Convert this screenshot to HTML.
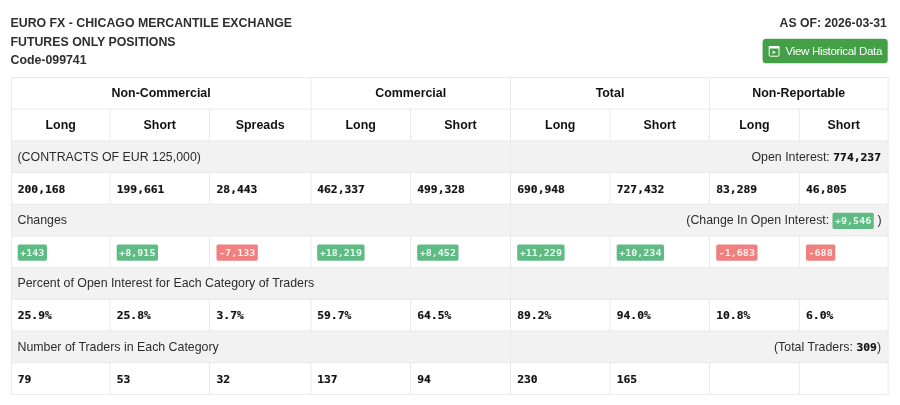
<!DOCTYPE html>
<html lang="en"><head><meta charset="utf-8"><title>EURO FX - COT</title><style>
html,body{margin:0;padding:0;background:#fff;}
body{width:900px;height:405px;position:relative;overflow:hidden;font-family:"Liberation Sans",Arial,sans-serif;color:#333;}
svg.bg{position:absolute;left:0;top:0;}
.t{position:absolute;white-space:nowrap;}
.title{font-weight:bold;font-size:12.33px;line-height:18.6px;color:#2e2e2e;}
.h{position:absolute;font-weight:bold;font-size:12.4px;color:#111;text-align:center;white-space:nowrap;}
.lbl{position:absolute;font-size:12.36px;color:#2c2c2c;white-space:nowrap;}
.num{position:absolute;font-family:"DejaVu Sans Mono","Liberation Mono",monospace;font-weight:bold;font-size:11.33px;color:#111;white-space:nowrap;transform:translateY(-0.1px) scaleY(0.88);-webkit-text-stroke:0.2px #111;}
.m{font-family:"DejaVu Sans Mono","Liberation Mono",monospace;font-weight:bold;font-size:11.33px;color:#111;display:inline-block;transform:translateY(0.2px) scaleY(0.88);-webkit-text-stroke:0.2px #111;}
.b{position:absolute;font-family:"DejaVu Sans Mono","Liberation Mono",monospace;font-weight:bold;font-size:10.0px;color:rgba(255,255,255,.88);white-space:nowrap;text-align:center;transform:scaleY(0.9);}
.btn{position:absolute;color:#fff;font-size:11.6px;white-space:nowrap;letter-spacing:-0.35px;}
</style></head><body>
<svg class="bg" width="900" height="405" viewBox="0 0 900 405">
<rect x="762.60" y="38.70" width="125.10" height="24.60" rx="3.5" fill="#43a047"/>
<g transform="translate(762.6,38.7)"><rect x="6.6" y="8.3" width="9.8" height="9.2" rx="1" fill="none" stroke="#fff" stroke-width="1"/><rect x="6.1" y="7.4" width="10.8" height="2.3" rx="0.6" fill="#fff"/><path d="M10.1 11.8 L13.3 13.6 L10.1 15.4 Z" fill="#fff"/></g>
<rect x="11.40" y="140.88" width="876.70" height="31.69" fill="#f2f2f2"/>
<rect x="11.40" y="204.26" width="876.70" height="31.69" fill="#f2f2f2"/>
<rect x="11.40" y="267.64" width="876.70" height="31.69" fill="#f2f2f2"/>
<rect x="11.40" y="331.02" width="876.70" height="31.69" fill="#f2f2f2"/>
<rect x="10.90" y="77.00" width="877.70" height="1.00" fill="#e9e9e9"/>
<rect x="10.90" y="108.69" width="877.70" height="1.00" fill="#e9e9e9"/>
<rect x="10.90" y="140.38" width="877.70" height="1.00" fill="#e9e9e9"/>
<rect x="10.90" y="172.07" width="877.70" height="1.00" fill="#e9e9e9"/>
<rect x="10.90" y="203.76" width="877.70" height="1.00" fill="#e9e9e9"/>
<rect x="10.90" y="235.45" width="877.70" height="1.00" fill="#e9e9e9"/>
<rect x="10.90" y="267.14" width="877.70" height="1.00" fill="#e9e9e9"/>
<rect x="10.90" y="298.83" width="877.70" height="1.00" fill="#e9e9e9"/>
<rect x="10.90" y="330.52" width="877.70" height="1.00" fill="#e9e9e9"/>
<rect x="10.90" y="362.21" width="877.70" height="1.00" fill="#e9e9e9"/>
<rect x="10.90" y="393.90" width="877.70" height="1.00" fill="#e9e9e9"/>
<rect x="10.90" y="77.00" width="1.00" height="317.90" fill="#e9e9e9"/>
<rect x="887.60" y="77.00" width="1.00" height="317.90" fill="#e9e9e9"/>
<rect x="510.00" y="77.00" width="1.00" height="317.90" fill="#e9e9e9"/>
<rect x="310.40" y="77.00" width="1.00" height="64.38" fill="#e9e9e9"/>
<rect x="310.40" y="172.07" width="1.00" height="32.69" fill="#e9e9e9"/>
<rect x="310.40" y="235.45" width="1.00" height="32.69" fill="#e9e9e9"/>
<rect x="310.40" y="298.83" width="1.00" height="32.69" fill="#e9e9e9"/>
<rect x="310.40" y="362.21" width="1.00" height="32.69" fill="#e9e9e9"/>
<rect x="709.00" y="77.00" width="1.00" height="64.38" fill="#e9e9e9"/>
<rect x="709.00" y="172.07" width="1.00" height="32.69" fill="#e9e9e9"/>
<rect x="709.00" y="235.45" width="1.00" height="32.69" fill="#e9e9e9"/>
<rect x="709.00" y="298.83" width="1.00" height="32.69" fill="#e9e9e9"/>
<rect x="709.00" y="362.21" width="1.00" height="32.69" fill="#e9e9e9"/>
<rect x="109.50" y="108.69" width="1.00" height="32.69" fill="#e9e9e9"/>
<rect x="109.50" y="172.07" width="1.00" height="32.69" fill="#e9e9e9"/>
<rect x="109.50" y="235.45" width="1.00" height="32.69" fill="#e9e9e9"/>
<rect x="109.50" y="298.83" width="1.00" height="32.69" fill="#e9e9e9"/>
<rect x="109.50" y="362.21" width="1.00" height="32.69" fill="#e9e9e9"/>
<rect x="209.00" y="108.69" width="1.00" height="32.69" fill="#e9e9e9"/>
<rect x="209.00" y="172.07" width="1.00" height="32.69" fill="#e9e9e9"/>
<rect x="209.00" y="235.45" width="1.00" height="32.69" fill="#e9e9e9"/>
<rect x="209.00" y="298.83" width="1.00" height="32.69" fill="#e9e9e9"/>
<rect x="209.00" y="362.21" width="1.00" height="32.69" fill="#e9e9e9"/>
<rect x="410.00" y="108.69" width="1.00" height="32.69" fill="#e9e9e9"/>
<rect x="410.00" y="172.07" width="1.00" height="32.69" fill="#e9e9e9"/>
<rect x="410.00" y="235.45" width="1.00" height="32.69" fill="#e9e9e9"/>
<rect x="410.00" y="298.83" width="1.00" height="32.69" fill="#e9e9e9"/>
<rect x="410.00" y="362.21" width="1.00" height="32.69" fill="#e9e9e9"/>
<rect x="609.50" y="108.69" width="1.00" height="32.69" fill="#e9e9e9"/>
<rect x="609.50" y="172.07" width="1.00" height="32.69" fill="#e9e9e9"/>
<rect x="609.50" y="235.45" width="1.00" height="32.69" fill="#e9e9e9"/>
<rect x="609.50" y="298.83" width="1.00" height="32.69" fill="#e9e9e9"/>
<rect x="609.50" y="362.21" width="1.00" height="32.69" fill="#e9e9e9"/>
<rect x="798.80" y="108.69" width="1.00" height="32.69" fill="#e9e9e9"/>
<rect x="798.80" y="172.07" width="1.00" height="32.69" fill="#e9e9e9"/>
<rect x="798.80" y="235.45" width="1.00" height="32.69" fill="#e9e9e9"/>
<rect x="798.80" y="298.83" width="1.00" height="32.69" fill="#e9e9e9"/>
<rect x="798.80" y="362.21" width="1.00" height="32.69" fill="#e9e9e9"/>
<rect x="832.48" y="212.81" width="41.32" height="16.20" rx="1.7" fill="#5fbb83"/>
<rect x="17.70" y="244.50" width="29.28" height="16.20" rx="1.7" fill="#5fbb83"/>
<rect x="116.70" y="244.50" width="41.32" height="16.20" rx="1.7" fill="#5fbb83"/>
<rect x="216.50" y="244.50" width="41.32" height="16.20" rx="1.7" fill="#f08080"/>
<rect x="317.20" y="244.50" width="47.34" height="16.20" rx="1.7" fill="#5fbb83"/>
<rect x="417.20" y="244.50" width="41.32" height="16.20" rx="1.7" fill="#5fbb83"/>
<rect x="517.20" y="244.50" width="47.34" height="16.20" rx="1.7" fill="#5fbb83"/>
<rect x="616.70" y="244.50" width="47.34" height="16.20" rx="1.7" fill="#5fbb83"/>
<rect x="716.20" y="244.50" width="41.32" height="16.20" rx="1.7" fill="#f08080"/>
<rect x="806.00" y="244.50" width="29.28" height="16.20" rx="1.7" fill="#f08080"/>
</svg>
<div class="t title" style="left:10.5px;top:14px;">EURO FX - CHICAGO MERCANTILE EXCHANGE<br>FUTURES ONLY POSITIONS<br>Code-099741</div>
<div class="t title" style="right:13.1px;top:14px;font-size:12.23px;">AS OF: 2026-03-31</div>
<div class="btn" style="left:785.50px;top:38px;height:25px;line-height:25px;">View Historical Data</div>
<div class="h" style="left:11.4px;width:299.50px;top:77px;height:32px;line-height:32px;">Non-Commercial</div>
<div class="h" style="left:310.9px;width:199.60px;top:77px;height:32px;line-height:32px;">Commercial</div>
<div class="h" style="left:510.5px;width:199.00px;top:77px;height:32px;line-height:32px;">Total</div>
<div class="h" style="left:709.5px;width:178.60px;top:77px;height:32px;line-height:32px;">Non-Reportable</div>
<div class="h" style="left:11.4px;width:98.60px;top:109px;height:32px;line-height:32px;">Long</div>
<div class="h" style="left:110px;width:99.50px;top:109px;height:32px;line-height:32px;">Short</div>
<div class="h" style="left:209.5px;width:101.40px;top:109px;height:32px;line-height:32px;">Spreads</div>
<div class="h" style="left:310.9px;width:99.60px;top:109px;height:32px;line-height:32px;">Long</div>
<div class="h" style="left:410.5px;width:100.00px;top:109px;height:32px;line-height:32px;">Short</div>
<div class="h" style="left:510.5px;width:99.50px;top:109px;height:32px;line-height:32px;">Long</div>
<div class="h" style="left:610px;width:99.50px;top:109px;height:32px;line-height:32px;">Short</div>
<div class="h" style="left:709.5px;width:89.80px;top:109px;height:32px;line-height:32px;">Long</div>
<div class="h" style="left:799.3px;width:88.80px;top:109px;height:32px;line-height:32px;">Short</div>
<div class="lbl" style="left:17.5px;top:141px;height:32px;line-height:32px;">(CONTRACTS OF EUR 125,000)</div>
<div class="lbl" style="right:19.00px;top:141px;height:32px;line-height:32px;">Open Interest: <span class="m">774,237</span></div>
<div class="lbl" style="left:17.5px;top:204px;height:32px;line-height:32px;">Changes</div>
<div class="lbl" style="right:70.82px;top:204px;height:32px;line-height:32px;">(Change In Open Interest:</div>
<div class="b" style="left:832.48px;width:41.32px;top:213px;height:16px;line-height:16px;">+9,546</div>
<div class="lbl" style="right:18.50px;top:204px;height:32px;line-height:32px;">)</div>
<div class="lbl" style="left:17.5px;top:267px;height:32px;line-height:32px;">Percent of Open Interest for Each Category of Traders</div>
<div class="lbl" style="left:17.5px;top:331px;height:32px;line-height:32px;">Number of Traders in Each Category</div>
<div class="lbl" style="right:19.00px;top:331px;height:32px;line-height:32px;">(Total Traders: <span class="m">309</span>)</div>
<div class="num" style="left:17.70px;top:174px;height:32px;line-height:32px;">200,168</div>
<div class="num" style="left:116.70px;top:174px;height:32px;line-height:32px;">199,661</div>
<div class="num" style="left:216.50px;top:174px;height:32px;line-height:32px;">28,443</div>
<div class="num" style="left:317.20px;top:174px;height:32px;line-height:32px;">462,337</div>
<div class="num" style="left:417.20px;top:174px;height:32px;line-height:32px;">499,328</div>
<div class="num" style="left:517.20px;top:174px;height:32px;line-height:32px;">690,948</div>
<div class="num" style="left:616.70px;top:174px;height:32px;line-height:32px;">727,432</div>
<div class="num" style="left:716.20px;top:174px;height:32px;line-height:32px;">83,289</div>
<div class="num" style="left:806.00px;top:174px;height:32px;line-height:32px;">46,805</div>
<div class="num" style="left:17.70px;top:300px;height:32px;line-height:32px;">25.9%</div>
<div class="num" style="left:116.70px;top:300px;height:32px;line-height:32px;">25.8%</div>
<div class="num" style="left:216.50px;top:300px;height:32px;line-height:32px;">3.7%</div>
<div class="num" style="left:317.20px;top:300px;height:32px;line-height:32px;">59.7%</div>
<div class="num" style="left:417.20px;top:300px;height:32px;line-height:32px;">64.5%</div>
<div class="num" style="left:517.20px;top:300px;height:32px;line-height:32px;">89.2%</div>
<div class="num" style="left:616.70px;top:300px;height:32px;line-height:32px;">94.0%</div>
<div class="num" style="left:716.20px;top:300px;height:32px;line-height:32px;">10.8%</div>
<div class="num" style="left:806.00px;top:300px;height:32px;line-height:32px;">6.0%</div>
<div class="num" style="left:17.70px;top:364px;height:32px;line-height:32px;">79</div>
<div class="num" style="left:116.70px;top:364px;height:32px;line-height:32px;">53</div>
<div class="num" style="left:216.50px;top:364px;height:32px;line-height:32px;">32</div>
<div class="num" style="left:317.20px;top:364px;height:32px;line-height:32px;">137</div>
<div class="num" style="left:417.20px;top:364px;height:32px;line-height:32px;">94</div>
<div class="num" style="left:517.20px;top:364px;height:32px;line-height:32px;">230</div>
<div class="num" style="left:616.70px;top:364px;height:32px;line-height:32px;">165</div>
<div class="b" style="left:17.70px;width:29.28px;top:245px;height:16px;line-height:16px;">+143</div>
<div class="b" style="left:116.70px;width:41.32px;top:245px;height:16px;line-height:16px;">+8,915</div>
<div class="b" style="left:216.50px;width:41.32px;top:245px;height:16px;line-height:16px;">-7,133</div>
<div class="b" style="left:317.20px;width:47.34px;top:245px;height:16px;line-height:16px;">+18,219</div>
<div class="b" style="left:417.20px;width:41.32px;top:245px;height:16px;line-height:16px;">+8,452</div>
<div class="b" style="left:517.20px;width:47.34px;top:245px;height:16px;line-height:16px;">+11,229</div>
<div class="b" style="left:616.70px;width:47.34px;top:245px;height:16px;line-height:16px;">+10,234</div>
<div class="b" style="left:716.20px;width:41.32px;top:245px;height:16px;line-height:16px;">-1,683</div>
<div class="b" style="left:806.00px;width:29.28px;top:245px;height:16px;line-height:16px;">-688</div>
</body></html>
